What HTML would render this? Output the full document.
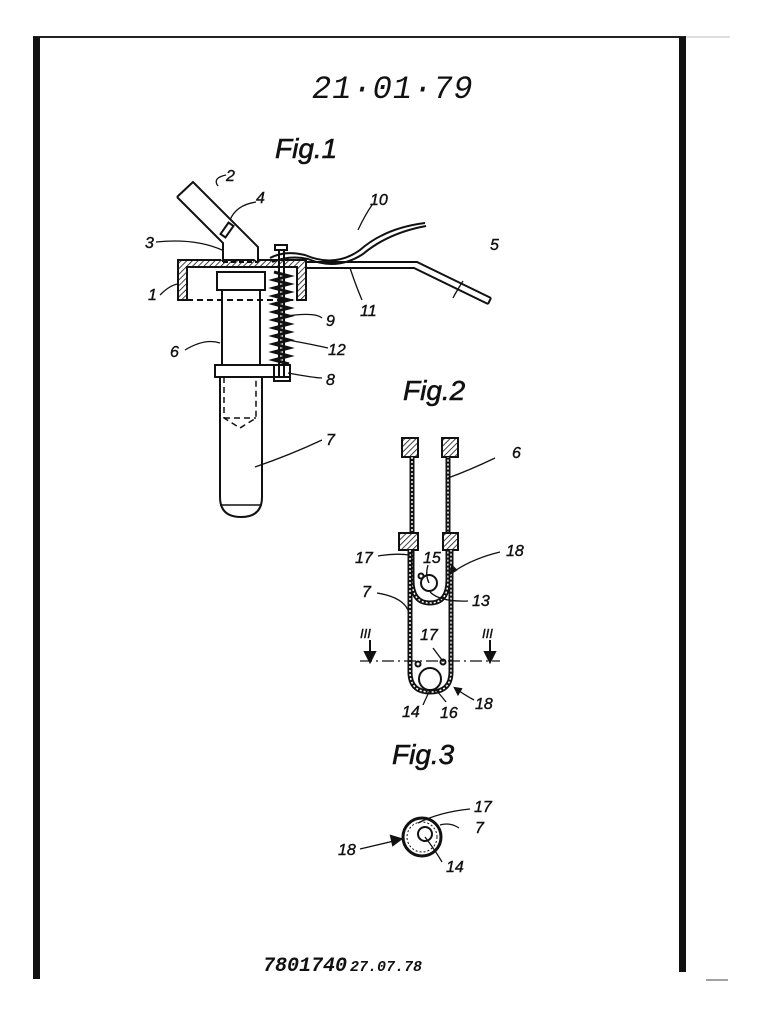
<!DOCTYPE html>
<html><head><meta charset="utf-8"><style>
html,body{margin:0;padding:0;background:#fff;}
svg{display:block}
text{font-family:"Liberation Sans",sans-serif;font-style:italic;fill:#111}
</style></head><body>
<svg width="757" height="1024" viewBox="0 0 757 1024" xmlns="http://www.w3.org/2000/svg">
<defs>
<pattern id="h" width="4" height="4" patternUnits="userSpaceOnUse" patternTransform="rotate(45)">
<rect width="4" height="4" fill="#fff"/><line x1="0" y1="0" x2="0" y2="4" stroke="#111" stroke-width="1.6"/></pattern>
</defs>
<line x1="33" y1="37" x2="686" y2="37" stroke="#222" stroke-width="2"/>
<line x1="686" y1="37" x2="730" y2="37" stroke="#bbb" stroke-width="1"/>
<rect x="33" y="37" width="7" height="942" fill="#111"/>
<rect x="679" y="37" width="7" height="935" fill="#111"/>
<line x1="706" y1="980" x2="728" y2="980" stroke="#444" stroke-width="1"/>
<text x="312" y="98" font-size="32" font-style="normal" fill="#aaa" style="font-family:'Liberation Mono',monospace;letter-spacing:1px">21·01·79</text>
<text x="275" y="158" font-size="28" stroke="#111" stroke-width="0.6">Fig.1</text>
<text x="403" y="400" font-size="28" stroke="#111" stroke-width="0.6">Fig.2</text>
<text x="392" y="764" font-size="28" stroke="#111" stroke-width="0.6">Fig.3</text>

<g stroke="#111" stroke-width="2" fill="none">
<path d="M178 260 H306 V300 H297 V267 H187 V300 H178 Z" fill="url(#h)"/>
<line x1="187" y1="300" x2="297" y2="300" stroke-dasharray="6 4"/>
<path d="M177 197 L193 182 L258 247 V262 M177 197 L223 243 V262" fill="#fff"/>
<line x1="223" y1="262" x2="258" y2="262" stroke-dasharray="5 3"/>
<rect x="224" y="223" width="6" height="14" transform="rotate(35 227 230)"/>
<rect x="217" y="272" width="48" height="18" fill="#fff"/>
<path d="M222 290 V365 M260 290 V365"/>
<rect x="215" y="365" width="75" height="12" fill="#fff"/>
<rect x="274" y="365" width="16" height="16"/>
<path d="M220 377 V497 Q220 517 241 517 Q262 517 262 497 V377"/>
<path d="M224 377 V418 L240 428 L256 418 V377 M224 418 H256" stroke-dasharray="6 4" stroke-width="1.5"/>
<line x1="220" y1="505" x2="262" y2="505" stroke-width="1.5"/>
<rect x="275" y="245" width="12" height="5" fill="#fff"/>
<path d="M279 250 V378 M284 250 V378"/>
<path d="M274 272 L289 276 L274 280 L289 284 L274 288 L289 292 L274 296 L289 300 L274 304 L289 308 L274 312 L289 316 L274 320 L289 324 L274 328 L289 332 L274 336 L289 340 L274 344 L289 348 L274 352 L289 356 L274 360 L289 364" stroke-width="3"/>
<path d="M306 262 H417 L491 298 M306 268 H414 L488 304 M491 298 L488 304"/>
<path d="M270 258 Q285 250 305 255 Q335 268 360 250 Q385 228 425 223 M272 262 Q290 255 308 259 Q337 271 363 254 Q388 233 426 226"/>
<path d="M218 186 Q212 178 226 175" stroke-width="1.3"/>
<path d="M230 220 Q236 205 256 202" stroke-width="1.3"/>
<path d="M156 242 Q195 238 222 250" stroke-width="1.3"/>
<path d="M160 295 Q170 285 178 284" stroke-width="1.3"/>
<path d="M463 281 Q456 292 453 298" stroke-width="1.3"/>
<path d="M350 268 Q356 286 362 300" stroke-width="1.3"/>
<path d="M358 230 Q365 215 372 205" stroke-width="1.3"/>
<path d="M287 316 Q315 312 322 318" stroke-width="1.3"/>
<path d="M288 340 Q315 345 328 348" stroke-width="1.3"/>
<path d="M288 373 Q315 378 322 378" stroke-width="1.3"/>
<path d="M185 350 Q205 338 220 343" stroke-width="1.3"/>
<path d="M255 467 Q290 455 322 440" stroke-width="1.3"/>

<rect x="402" y="438" width="16" height="19" fill="url(#h)"/>
<rect x="442" y="438" width="16" height="19" fill="url(#h)"/>
<path d="M412 457 V580 Q412 603 430 603 Q448 603 448 580 V457" stroke-width="5"/>
<path d="M412 457 V580 Q412 603 430 603 Q448 603 448 580 V457" stroke="#fff" stroke-width="1.5" stroke-dasharray="2 2"/>
<rect x="399" y="533" width="19" height="17" fill="url(#h)"/>
<rect x="443" y="533" width="15" height="17" fill="url(#h)"/>
<path d="M410 550 V672 Q410 692 430 692 Q451 692 451 672 V550" stroke-width="5"/>
<path d="M410 550 V672 Q410 692 430 692 Q451 692 451 672 V550" stroke="#fff" stroke-width="1.5" stroke-dasharray="2 2"/>
<circle cx="429" cy="583" r="8"/>
<circle cx="421" cy="576" r="2.5"/>
<circle cx="430" cy="679" r="11"/>
<circle cx="418" cy="664" r="2.5"/>
<circle cx="443" cy="662" r="2.5"/>
<path d="M360 661 H500" stroke-width="1.3" stroke-dasharray="12 4 2 4"/>
<path d="M370 640 V660 M490 640 V660"/>
<path d="M365 652 L370 662 L375 652 Z M485 652 L490 662 L495 652 Z" fill="#111"/>
<path d="M448 478 Q470 470 495 458" stroke-width="1.3"/>
<path d="M378 556 Q395 553 410 555" stroke-width="1.3"/>
<path d="M500 552 Q475 558 456 570" stroke-width="1.3"/>
<path d="M456 570 L452 566 L451 573 Z" fill="#111"/>
<path d="M377 593 Q402 597 408 610" stroke-width="1.3"/>
<path d="M430 592 Q440 602 468 601" stroke-width="1.3"/>
<path d="M429 583 Q425 575 428 565" stroke-width="1.3"/>
<path d="M433 648 Q439 656 442 660" stroke-width="1.3"/>
<path d="M423 705 Q427 696 430 690" stroke-width="1.3"/>
<path d="M436 690 Q443 698 446 702" stroke-width="1.3"/>
<path d="M474 700 Q463 694 455 688" stroke-width="1.3"/>
<path d="M455 688 L458 694 L461 689 Z" fill="#111"/>

<circle cx="422" cy="837" r="19" stroke-width="3"/>
<circle cx="422" cy="837" r="15" stroke-width="1" stroke-dasharray="2 2"/>
<circle cx="425" cy="834" r="7"/>
<path d="M360 849 L398 840" stroke-width="1.3"/>
<path d="M401 839 L391 836 L393 845 Z" fill="#111"/>
<path d="M418 823 Q440 812 470 809" stroke-width="1.3"/>
<path d="M440 825 Q450 822 459 828" stroke-width="1.3"/>
<path d="M425 837 Q435 850 442 862" stroke-width="1.3"/>
</g>

<g font-size="16" stroke="#111" stroke-width="0.4">
<text x="226" y="181">2</text>
<text x="256" y="203">4</text>
<text x="370" y="205">10</text>
<text x="145" y="248">3</text>
<text x="490" y="250">5</text>
<text x="148" y="300">1</text>
<text x="360" y="316">11</text>
<text x="326" y="326">9</text>
<text x="328" y="355">12</text>
<text x="170" y="357">6</text>
<text x="326" y="385">8</text>
<text x="326" y="445">7</text>
<text x="512" y="458">6</text>
<text x="423" y="563">15</text>
<text x="355" y="563">17</text>
<text x="506" y="556">18</text>
<text x="362" y="597">7</text>
<text x="472" y="606">13</text>
<text x="360" y="638" font-size="13">III</text>
<text x="482" y="638" font-size="13">III</text>
<text x="420" y="640">17</text>
<text x="402" y="717">14</text>
<text x="440" y="718">16</text>
<text x="475" y="709">18</text>
<text x="474" y="812">17</text>
<text x="475" y="833">7</text>
<text x="338" y="855">18</text>
<text x="446" y="872">14</text>
</g>
<text x="263" y="971" font-size="20" font-weight="bold" font-style="normal" style="font-family:'Liberation Mono',monospace">7801740</text>
<text x="350" y="971" font-size="15" font-weight="bold" font-style="normal" style="font-family:'Liberation Mono',monospace">27.07.78</text>
</svg>
</body></html>
